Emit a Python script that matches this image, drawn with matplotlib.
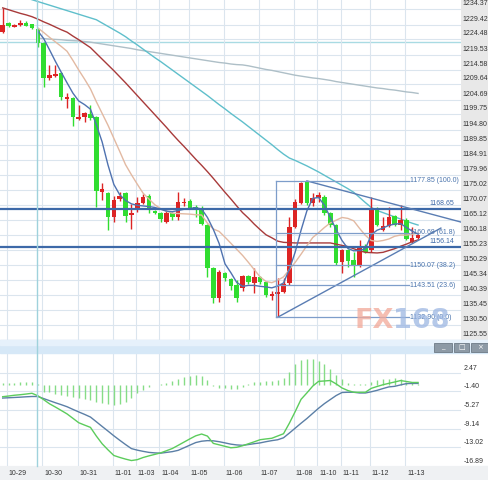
import numpy as np
import matplotlib
matplotlib.use('Agg')
import matplotlib.pyplot as plt
from matplotlib.patches import Rectangle
from matplotlib import transforms

nan = np.nan

# 4-hour gold candles (red = up, green = down)
opens = [1226.95, 1229.92, 1228.76, 1229.42, 1229.92, 1229.59, 1227.94, 1223.32, 1211.62, 1212.44,
         1213.43, 1204.86, 1205.19, 1198.26, 1198.92, 1199.91, 1198.92, 1174.20, 1173.87, 1165.95,
         1171.89, 1173.87, 1166.61, 1168.59, 1170.57, 1172.88, 1167.93, 1167.27, 1164.31, 1167.27,
         1165.95, 1170.41, 1171.23, 1169.09, 1168.92, 1163.32, 1149.14, 1139.25, 1147.49, 1145.51,
         1143.54, 1142.55, 1146.50, 1144.19, 1146.17, 1144.52, 1139.91, 1140.57, 1141.23, 1144.19,
         1162.66, 1170.57, 1177.60, 1170.57, 1172.22, 1172.55, 1167.27, 1163.32, 1151.12, 1155.08,
         1151.78, 1150.13, 1156.06, 1155.08, 1168.59, 1161.67, 1162.99, 1166.28, 1163.32, 1164.97,
         1157.71, 1159.03]
highs = [1234.86, 1230.25, 1229.59, 1230.91, 1230.58, 1229.75, 1228.27, 1223.65, 1216.07, 1216.07,
         1213.76, 1206.84, 1205.52, 1202.88, 1200.57, 1202.88, 1199.25, 1177.17, 1174.20, 1172.88,
         1174.20, 1174.20, 1170.24, 1172.55, 1173.54, 1173.54, 1168.26, 1167.60, 1168.26, 1167.60,
         1174.20, 1172.22, 1171.89, 1169.91, 1169.58, 1163.65, 1149.47, 1148.48, 1147.82, 1145.84,
         1145.18, 1146.83, 1146.83, 1149.14, 1146.50, 1144.85, 1141.56, 1145.84, 1145.84, 1165.95,
         1171.89, 1177.60, 1177.85, 1173.87, 1174.20, 1173.21, 1167.60, 1163.65, 1155.41, 1155.41,
         1154.42, 1158.37, 1157.04, 1172.55, 1169.25, 1165.95, 1169.25, 1166.61, 1169.91, 1165.63,
         1162.66, 1160.35]
lows = [1226.62, 1228.60, 1228.60, 1228.93, 1228.93, 1227.94, 1222.00, 1208.82, 1211.12, 1212.11,
        1204.53, 1201.89, 1195.96, 1197.94, 1197.28, 1197.94, 1169.25, 1171.56, 1161.67, 1164.31,
        1171.23, 1164.31, 1162.00, 1167.60, 1170.24, 1167.27, 1166.94, 1164.31, 1163.98, 1164.97,
        1164.97, 1169.58, 1168.59, 1165.95, 1163.32, 1146.17, 1137.60, 1137.93, 1144.85, 1141.89,
        1137.93, 1141.56, 1143.86, 1140.90, 1143.86, 1139.58, 1138.59, 1132.90, 1140.90, 1143.54,
        1162.33, 1170.24, 1169.91, 1169.58, 1170.90, 1166.61, 1162.66, 1150.13, 1147.49, 1149.47,
        1146.17, 1149.47, 1154.09, 1154.42, 1162.99, 1161.34, 1162.66, 1162.99, 1161.67, 1158.37,
        1157.38, 1158.70]
closes = [1229.26, 1228.93, 1229.26, 1229.92, 1229.09, 1228.27, 1223.32, 1211.78, 1212.77, 1213.10,
          1205.52, 1205.35, 1198.92, 1198.76, 1200.24, 1198.59, 1174.53, 1175.19, 1165.95, 1171.56,
          1172.88, 1166.28, 1167.27, 1170.57, 1172.71, 1168.59, 1167.27, 1165.30, 1167.27, 1165.95,
          1170.90, 1170.90, 1168.92, 1168.59, 1163.65, 1149.14, 1139.25, 1147.82, 1145.84, 1143.21,
          1139.25, 1146.50, 1144.52, 1146.17, 1144.52, 1140.24, 1140.57, 1141.23, 1143.86, 1162.66,
          1170.90, 1177.30, 1170.57, 1172.22, 1173.21, 1167.27, 1163.32, 1150.79, 1155.08, 1151.45,
          1150.13, 1156.06, 1154.42, 1168.26, 1163.32, 1162.99, 1165.95, 1163.32, 1164.97, 1158.70,
          1159.03, 1160.02]

# moving averages
ma5 = [nan] * 6 + [
    1227.3, 1224.8, 1221.1, 1217.3, 1213.7, 1210.2, 1206.8, 1204.2, 1203.0, 1201.5,
    1196.4, 1190.7, 1183.1, 1176.7, 1173.3, 1171.4, 1170.3, 1169.8, 1169.6, 1169.4,
    1169.1, 1168.5, 1167.9, 1167.7, 1168.1, 1168.5, 1168.8, 1169.0, 1168.6, 1165.8,
    1161.9, 1157.2, 1150.5, 1147.6, 1144.4, 1143.1, 1143.4, 1143.4, 1143.1, 1142.9,
    1142.6, 1143.2, 1144.2, 1148.7, 1154.4, 1161.6, 1168.0, 1172.1, 1172.4, 1169.8,
    1165.8, 1161.8, 1158.2, 1155.6, 1154.8, 1154.9, 1155.5, 1160.1, 1161.6, 1162.3,
    1163.2, 1163.6, 1163.8, 1162.5, 1161.3, 1160.3]
ma10 = [nan] * 6 + [
    1228.3, 1226.8, 1225.2, 1223.7, 1222.2, 1220.6, 1217.6, 1214.4, 1211.4, 1208.2,
    1204.0, 1200.1, 1196.2, 1191.9, 1187.6, 1183.2, 1179.9, 1176.8, 1173.8, 1171.9,
    1170.0, 1168.7, 1167.8, 1167.2, 1167.1, 1167.0, 1166.9, 1166.7, 1166.6, 1163.9,
    1162.0, 1161.2, 1159.3, 1157.3, 1155.3, 1153.3, 1151.0, 1148.6, 1146.2, 1144.7,
    1144.3, 1145.1, 1146.2, 1148.6, 1151.0, 1153.7, 1156.5, 1159.2, 1160.8, 1162.5,
    1164.0, 1164.9, 1165.8, 1165.5, 1164.7, 1162.2, 1159.9, 1158.2, 1157.9, 1158.2,
    1158.7, 1159.6, 1160.0, 1160.0, 1160.3, 1160.6]
ma20 = [1234.9, 1234.3, 1233.7, 1233.1, 1232.6, 1232.0, 1231.2, 1230.3, 1229.5, 1228.6,
        1227.7, 1226.9, 1225.6, 1224.4, 1223.1, 1221.8, 1219.9, 1218.0, 1216.1, 1214.2,
        1212.2, 1210.2, 1208.1, 1206.0, 1203.9, 1201.8, 1199.7, 1197.6, 1195.5, 1193.3,
        1191.2, 1189.2, 1187.1, 1185.0, 1183.0, 1180.9, 1178.7, 1176.4, 1174.1, 1171.9,
        1169.6, 1167.4, 1165.6, 1163.6, 1161.8, 1160.1, 1159.1, 1158.0, 1157.6, 1157.5,
        1157.4, 1157.4, 1157.4, 1157.4, 1157.4, 1157.4, 1157.4, 1157.0, 1156.6, 1156.2,
        1155.5, 1154.8, 1154.3, 1154.2, 1154.1, 1154.3, 1154.9, 1155.5, 1156.3, 1157.0,
        1157.8, 1158.4]
ma60 = [1240.6, 1240.0, 1239.4, 1238.8, 1238.2, 1237.6, 1237.0, 1236.4, 1235.8, 1235.2,
        1234.6, 1234.0, 1233.4, 1232.8, 1232.2, 1231.6, 1231.0, 1229.9, 1228.8, 1227.7,
        1226.6, 1225.4, 1224.0, 1222.7, 1221.3, 1219.9, 1218.5, 1217.2, 1215.8, 1214.4,
        1213.0, 1211.6, 1210.2, 1208.8, 1207.4, 1206.0, 1204.5, 1203.0, 1201.6, 1200.1,
        1198.7, 1197.3, 1195.8, 1194.3, 1192.8, 1191.3, 1189.8, 1188.2, 1186.7, 1185.4,
        1184.6, 1183.7, 1182.8, 1181.8, 1180.8, 1179.7, 1178.6, 1177.5, 1176.4, 1175.3,
        1174.1, 1172.4, 1170.7, 1169.1, 1168.1, 1167.4, 1166.7, 1166.0, 1165.3, 1164.6,
        1163.9, 1163.3]
ma120 = [nan] * 6 + [
    1224.9, 1224.8, 1224.6, 1224.5, 1224.4, 1224.2, 1224.1, 1224.0, 1223.8, 1223.6,
    1223.3, 1223.0, 1222.7, 1222.4, 1222.1, 1221.8, 1221.5, 1221.1, 1220.8, 1220.5,
    1220.2, 1219.9, 1219.6, 1219.3, 1219.0, 1218.7, 1218.4, 1218.1, 1217.8, 1217.5,
    1217.2, 1216.9, 1216.7, 1216.4, 1216.2, 1216.1, 1215.8, 1215.4, 1215.0, 1214.6,
    1214.3, 1213.9, 1213.5, 1213.1, 1212.7, 1212.4, 1212.1, 1211.8, 1211.6, 1211.3,
    1211.0, 1210.6, 1210.3, 1210.0, 1209.7, 1209.4, 1209.1, 1208.8, 1208.5, 1208.3,
    1208.0, 1207.8, 1207.5, 1207.2, 1207.0, 1206.7]

# MACD panel
dif = [-2.52, -2.38, -2.22, -2.11, -1.97, -1.81, -2.32, -3.13, -3.99, -4.66,
       -5.37, -6.09, -7.00, -7.92, -8.41, -8.88, -10.67, -12.28, -13.54, -14.71,
       -15.11, -15.46, -15.76, -15.58, -15.13, -14.79, -14.48, -14.17, -13.72, -13.26,
       -12.60, -11.93, -11.26, -10.63, -10.26, -10.69, -12.20, -12.50, -12.81, -13.11,
       -13.01, -12.69, -12.28, -11.87, -11.44, -11.28, -11.14, -10.67, -10.20, -8.02,
       -5.60, -3.07, -1.73, -0.32, 0.66, 0.74, 0.84, 0.13, -0.71, -1.24,
       -1.60, -1.60, -1.60, -0.79, -0.40, -0.04, 0.25, 0.53, 0.82, 0.64,
       0.43, 0.43]
dea = [-2.80, -2.74, -2.68, -2.62, -2.54, -2.48, -2.48, -2.91, -3.34, -3.77,
       -4.17, -4.60, -5.15, -5.68, -6.19, -6.74, -7.71, -8.69, -9.65, -10.63,
       -11.55, -12.44, -13.28, -13.60, -13.85, -14.07, -14.17, -14.23, -14.07, -13.91,
       -13.64, -13.11, -12.56, -12.03, -11.75, -11.63, -11.67, -11.85, -12.10, -12.36,
       -12.52, -12.60, -12.44, -12.26, -12.10, -11.85, -11.63, -11.45, -11.04, -10.06,
       -9.04, -8.02, -7.04, -5.97, -4.91, -3.95, -3.11, -2.28, -1.65, -1.60,
       -1.60, -1.75, -1.75, -1.50, -1.20, -0.83, -0.49, -0.37, -0.08, 0.19,
       0.23, 0.23]
hist = [0.30, 0.35, 0.40, 0.45, 0.50, 0.55, 0.20, -1.45, -1.65, -1.95,
        -2.15, -2.35, -2.60, -2.80, -3.00, -3.20, -3.60, -3.90, -4.10, -4.20,
        -4.10, -3.60, -2.80, -1.70, -1.20, -0.60, -0.10, 0.15, 0.40, 0.80,
        1.20, 1.60, 1.80, 2.00, 1.70, 0.90, -0.40, -0.70, -0.80, -0.90,
        -0.90, -0.60, 0.20, 0.60, 0.60, 0.70, 0.80, 0.90, 1.30, 2.60,
        4.20, 5.00, 5.30, 5.30, 4.90, 4.30, 3.30, 1.90, 1.06, 0.24,
        0.10, 0.05, 0.05, 0.50, 0.90, 1.10, 1.20, 1.30, 1.10, 0.60,
        0.30, 0.20]

price_ticks = ['1234.37', '1229.42', '1224.48', '1219.53', '1214.58', '1209.64', '1204.69',
               '1199.75', '1194.80', '1189.85', '1184.91', '1179.96', '1175.02', '1170.07',
               '1165.12', '1160.18', '1155.23', '1150.29', '1145.34', '1140.39', '1135.45',
               '1130.50', '1125.55']
macd_ticks = ['2.47', '-1.40', '-5.27', '-9.14', '-13.02', '-16.89']
dates = ['10-29', '10-30', '10-31', '11-01', '11-03', '11-04', '11-05',
         '11-06', '11-07', '11-08', '11-10', '11-11', '11-12', '11-13']
day_start = [1, 7, 13, 19, 23, 27, 32, 38, 44, 50, 54, 58, 63, 69]

# drawn objects
fib_prices = [1177.85, 1160.68, 1150.07, 1143.51, 1132.90]
fib_pcts = ['100.0', '61.8', '38.2', '23.6', '0.0']
fib_span = (46.7, 69.4)
levels = [1168.65, 1156.14]
trend_hi = ([52, 78.3], [1177.85, 1164.3])
trend_lo = ([47, 74.9], [1132.90, 1162.3])
cross_x, cross_y = 5.8, 1223.65

W, H = 488, 480
fig = plt.figure(figsize=(W / 100, H / 100), dpi=100)
fig.patch.set_facecolor('white')
font = 'Liberation Sans'
grid_c = '#dbe5ee'
red, green = '#dd2424', '#30dd30'

def fpx(x0, y0, x1, y1):
    # figure fraction rect from pixel box (top-left origin)
    return [x0 / W, 1 - y1 / H, (x1 - x0) / W, (y1 - y0) / H]

ax = fig.add_axes(fpx(0, 0, 461, 340))
am = fig.add_axes(fpx(0, 353, 461, 466))
xlim = (-0.46, 78.34)

for a in (ax, am):
    a.set_xlim(*xlim)
    a.set_xticks([s - 0.2 for s in day_start])
    a.grid(True, color=grid_c, lw=0.8, zorder=0)
    a.tick_params(length=0, labelleft=False, labelbottom=False)
    for sp in a.spines.values():
        sp.set_visible(False)

# ---- main price panel
pvals = [float(t) for t in price_ticks]
ax.set_ylim(1125.4, 1237.5)
ax.set_yticks(pvals)
x = np.arange(len(opens))
o = np.array(opens); c = np.array(closes)
cols = [red if cc >= oo else green for oo, cc in zip(o, c)]
ax.vlines(x, lows, highs, colors=cols, lw=1, zorder=3)
bh = np.maximum(np.abs(c - o), 0.5)
ax.bar(x, bh, bottom=np.minimum(o, c), width=0.78, color=cols, zorder=4, lw=0)

ax.plot(x, ma120, color='#aebfc7', lw=1, zorder=2)
ax.plot(x, ma60, color='#5fbfcb', lw=1, zorder=2)
ax.plot(x, ma20, color='#a83a3a', lw=1, zorder=5)
ax.plot(x, ma10, color='#e2b9a2', lw=1, zorder=5)
ax.plot(x, ma5, color='#4f72b0', lw=1, zorder=5)

ax.axhline(cross_y, color='#a9dbe3', lw=1, zorder=1)
for lv in levels:
    ax.axhline(lv, color='#3d69a8', lw=1.6, zorder=6)
    ax.text(75.1, lv + 1.8, f'{lv:.2f}', fontsize=5, family=font, color='#3d69a8',
            ha='center', va='center', zorder=7)
ax.plot(*trend_hi, color='#5a7db3', lw=1, zorder=6)
ax.plot(*trend_lo, color='#5a7db3', lw=1, zorder=6)

ax.plot([fib_span[0]] * 2, [fib_prices[-1], fib_prices[0]], color='#7d9dca', lw=0.9, zorder=6)
for fp, pc in zip(fib_prices, fib_pcts):
    ax.plot(fib_span, [fp, fp], color='#7d9dca', lw=0.9, zorder=6)
    ax.text(fib_span[1] + 0.25, fp, f'{fp:.2f} ({pc})', fontsize=5, family=font,
            color='#4a74ad', va='center', ha='left', zorder=7)

# watermark
wm1 = ax.text(0.768, 0.055, 'FX', transform=ax.transAxes, fontsize=19.5, weight='bold',
              color='#f2a898', alpha=0.75, va='center', ha='left', zorder=8)
fig.canvas.draw()
bb = wm1.get_window_extent()
xa = ax.transAxes.inverted().transform((bb.x1, bb.y0))[0]
ax.text(xa, 0.055, '168', transform=ax.transAxes, fontsize=19.5, weight='bold',
        color='#9db7e2', alpha=0.75, va='center', ha='left', zorder=8)

lab_tr = transforms.offset_copy(ax.get_yaxis_transform(), fig=fig, x=1.5, y=5.5, units='dots')
for v, t in zip(pvals, price_ticks):
    ax.text(1.0, v, t, transform=lab_tr, fontsize=5, family=font, color='#333333',
            va='center', ha='left', clip_on=False)

# ---- MACD panel
mvals = [float(t) for t in macd_ticks]
am.set_ylim(-16.47, 6.54)
am.set_yticks(mvals)
am.vlines(x, 0, hist, colors='#86dc86', lw=1, zorder=2)
am.plot(x, dea, color='#5b7fa6', lw=1, zorder=3)
am.plot(x, dif, color='#5ccc5c', lw=1, zorder=4)
mtr = transforms.offset_copy(am.get_yaxis_transform(), fig=fig, x=3, y=4.5, units='dots')
for v, t in zip(mvals, macd_ticks):
    am.text(1.0, v, t, transform=mtr, fontsize=5, family=font, color='#333333',
            va='center', ha='left', clip_on=False)
dtr = transforms.blended_transform_factory(am.transData, am.transAxes)
for s, d in zip(day_start, dates):
    am.text(s + 1.6, -0.065, d, transform=dtr, fontsize=5, family=font, color='#333333',
            ha='center', va='center', clip_on=False)

# ---- frame pieces
fig.add_artist(Rectangle(fpx(461, 0, 488, 340)[:2], 27 / W, 340 / H,
                         transform=fig.transFigure, color='#e8e8e8', zorder=-1))
fig.add_artist(Rectangle(fpx(0, 466, 488, 480)[:2], 1, 14 / H,
                         transform=fig.transFigure, color='#eff1f3', zorder=-1))
fig.add_artist(Rectangle(fpx(0, 340, 488, 353)[:2], 1, 13 / H,
                         transform=fig.transFigure, color='#d6e8f7', zorder=1))
fig.add_artist(Rectangle(fpx(0, 340, 488, 345)[:2], 1, 5 / H,
                         transform=fig.transFigure, color='#e6f1fb', zorder=1))
for (bx0, bx1), icon in zip([(434, 452), (454, 469), (471, 488)], ['_', '□', '×']):
    r = fpx(bx0, 343, bx1, 352)
    fig.add_artist(Rectangle(r[:2], r[2], r[3], transform=fig.transFigure,
                             facecolor='#8d9aa6', edgecolor='#6d7a86', lw=0.6, zorder=2))
    fig.text(r[0] + r[2] / 2, r[1] + r[3] / 2, icon, fontsize=5, color='white',
             ha='center', va='center', zorder=3)

# crosshair vertical through both panels
xf = (cross_x - xlim[0]) / (xlim[1] - xlim[0]) * 461 / W
fig.add_artist(plt.Line2D([xf, xf], [1 - 466 / H, 1], transform=fig.transFigure,
                          color='#9fd2dc', lw=1, zorder=3))

fig.savefig('out.png', dpi=100)
